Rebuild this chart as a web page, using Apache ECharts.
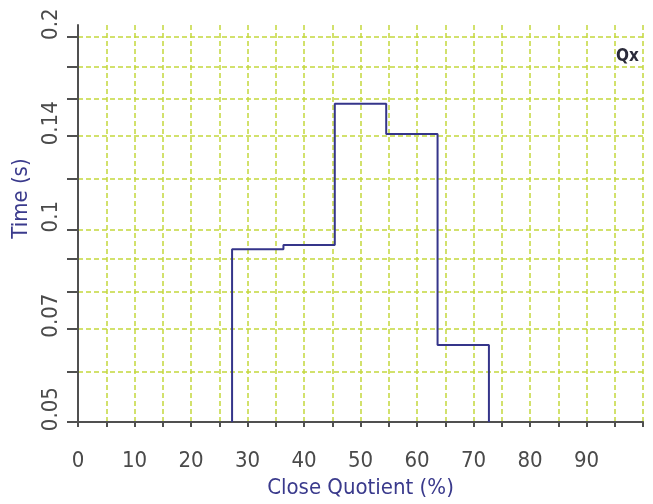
<!DOCTYPE html>
<html>
<head>
<meta charset="utf-8">
<script src="https://cdn.jsdelivr.net/npm/echarts@6/dist/echarts.min.js"></script>
<style>
  html, body { margin: 0; padding: 0; background: #ffffff; }
  #chart { width: 653px; height: 504px; }
</style>
</head>
<body>
<div id="chart"></div>
<script>
// Bin edges of the close-quotient histogram (%) and the time of each bin (s)
const binEdges = [27.27, 36.36, 45.45, 54.55, 63.64, 72.73];
const binTimes = [0.0932, 0.0946, 0.1574, 0.1412, 0.0660];

// Axis ticks and labels
const xTickLabels = [0, 10, 20, 30, 40, 50, 60, 70, 80, 90];
const yTicks = [0.05, 0.06, 0.07, 0.08, 0.09, 0.1, 0.12, 0.14, 0.16, 0.18, 0.2];
const yTickLabels = [0.05, 0.07, 0.1, 0.14, 0.2];

const yBase = 0.05;

// Outline of the histogram as a closed step path
const stepPath = [[binEdges[0], yBase]];
binTimes.forEach((t, i) => {
  stepPath.push([binEdges[i], t]);
  stepPath.push([binEdges[i + 1], t]);
});
stepPath.push([binEdges[binEdges.length - 1], yBase]);

const tickFont = "'DejaVu Sans Condensed', 'Liberation Sans', sans-serif";
const gridLine = { show: true, lineStyle: { color: '#c4d83c', width: 1.5, type: [5, 3] } };

const chart = echarts.init(document.getElementById('chart'), null, { renderer: 'canvas' });
chart.setOption({
  backgroundColor: '#ffffff',
  animation: false,
  grid: { left: 78, right: 10, top: 25, bottom: 77 },
  graphic: [{
    type: 'text', left: 616, top: 48,
    style: { text: 'Qx', font: "bold 17px 'DejaVu Sans Condensed', sans-serif", fill: '#2a2a3a' }
  }],
  xAxis: {
    type: 'value', min: 0, max: 100, interval: 5,
    name: 'Close Quotient (%)', nameLocation: 'middle', nameGap: 48,
    nameTextStyle: { color: '#3a3a8c', fontSize: 22, fontFamily: tickFont },
    axisLine: { show: true, lineStyle: { color: '#505050', width: 2 } },
    axisTick: { show: true, length: 5, lineStyle: { color: '#505050', width: 2 } },
    axisLabel: { customValues: xTickLabels, color: '#4a4a4a', fontSize: 22, fontFamily: tickFont, margin: 28 },
    splitLine: gridLine
  },
  yAxis: {
    type: 'log', logBase: 10, min: 0.05, max: 0.209,
    name: 'Time (s)', nameLocation: 'middle', nameGap: 33, nameRotate: 90,
    nameTextStyle: { color: '#3a3a8c', fontSize: 22, fontFamily: tickFont, padding: [0, 0, 0, 50] },
    axisLine: { show: true, lineStyle: { color: '#505050', width: 2 } },
    axisTick: { show: true, length: 11, customValues: yTicks, lineStyle: { color: '#505050', width: 2 } },
    axisLabel: {
      customValues: yTickLabels, rotate: 90, color: '#4a4a4a', fontSize: 22, fontFamily: tickFont,
      margin: 16, padding: [0, 0, 0, 26],
      formatter: v => String(+v.toFixed(2))
    },
    splitLine: gridLine
  },
  series: [{
    type: 'line',
    data: stepPath,
    showSymbol: false,
    lineStyle: { color: '#35358a', width: 2 },
    z: 5
  }]
});
</script>
</body>
</html>
